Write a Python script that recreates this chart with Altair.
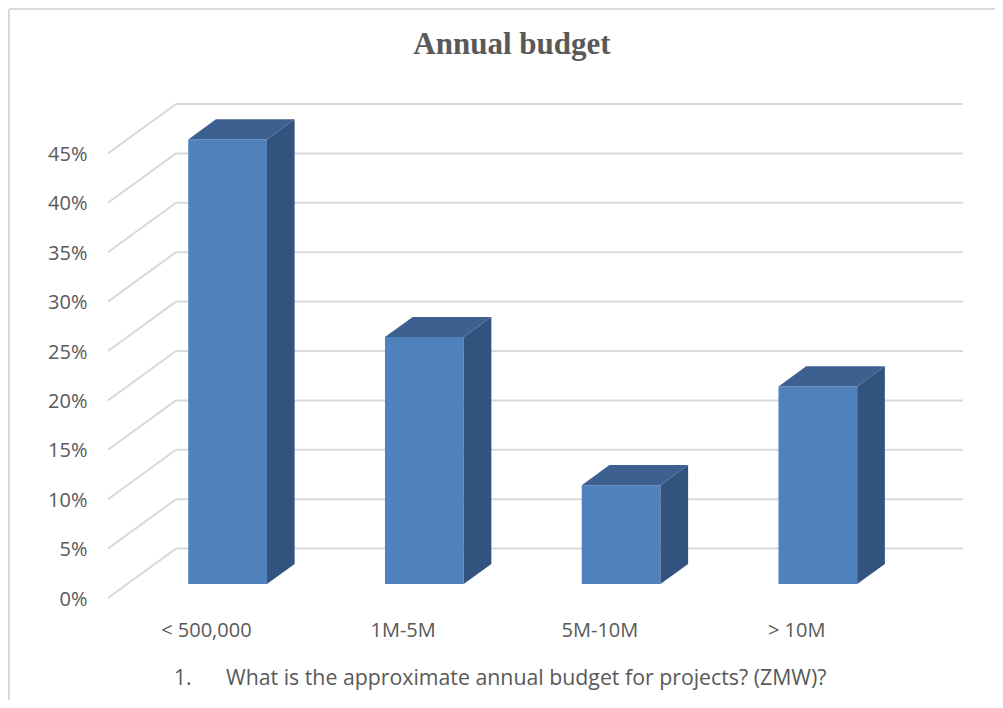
import altair as alt
import pandas as pd

# ---------------- data ----------------
categories = ["< 500,000", "1M-5M", "5M-10M", "> 10M"]
shares = [0.45, 0.25, 0.10, 0.20]
tick_values = [0.0, 0.05, 0.10, 0.15, 0.20, 0.25, 0.30, 0.35, 0.40, 0.45]
title_text = "Annual budget"
footnote_number = "1."
footnote_text = "What is the approximate annual budget for projects? (ZMW)?"

# ---------------- styling / geometry ----------------
W, H = 855, 494
UNIT = 196.75                 # px per category slot
DEPTH_X = 68 / UNIT           # 3-D depth of the wall, in category units
DEPTH_Y = 0.05                # 3-D depth of the wall, in value units
X_MAX = len(categories) + DEPTH_X
Y_MAX = 0.5
BAR_L, BAR_R = 0.31, 0.71
F1, F2 = 0.283, 0.69          # bar front / back depth fractions
FX1, FY1 = F1 * DEPTH_X, F1 * DEPTH_Y
FX2, FY2 = F2 * DEPTH_X, F2 * DEPTH_Y

FONT = "Open Sans"
TEXT_COLOR = "#595959"
GRID = "#d9d9d9"
FRONT = "#4f81bd"
TOP = "#3c6190"
SIDE = "#33537f"

xs = alt.Scale(domain=[0, X_MAX], nice=False, zero=False)
ys = alt.Scale(domain=[0, Y_MAX], nice=False, zero=False)
yaxis = alt.Axis(values=tick_values, format=".0%", grid=False, domain=False,
                 ticks=False, labelPadding=21, labelFont=FONT, labelFontSize=20,
                 labelColor=TEXT_COLOR, title=None, labelBaseline="middle", labelOffset=1)


def Y(field):
    return alt.Y(field, scale=ys, axis=yaxis, title=None)


def X(field):
    return alt.X(field, scale=xs, axis=None)


# ---------------- derived tables ----------------
grid_df = pd.DataFrame({"lvl": tick_values})
grid_df["x0"] = 0.0
grid_df["xb"] = DEPTH_X
grid_df["xe"] = len(categories) + DEPTH_X
grid_df["lvl_b"] = grid_df["lvl"] + DEPTH_Y

bars = pd.DataFrame({"cat": categories, "v": shares})
bars["i"] = range(len(categories))
bars["center"] = bars["i"] + 0.5
bars["fx0"] = bars["i"] + BAR_L + FX1
bars["fx1"] = bars["i"] + BAR_R + FX1
bars["fy0"] = FY1
bars["fy1"] = bars["v"] + FY1

side_rows, top_rows = [], []
for i, (c, v) in enumerate(zip(categories, shares)):
    side_rows.append({"cat": c, "x": i + BAR_R + FX1, "yt": v + FY1, "yb": FY1})
    side_rows.append({"cat": c, "x": i + BAR_R + FX2, "yt": v + FY2, "yb": FY2})
    top_rows.append({"cat": c, "y": v + FY1, "xl": i + BAR_L + FX1, "xr": i + BAR_R + FX1})
    top_rows.append({"cat": c, "y": v + FY2, "xl": i + BAR_L + FX2, "xr": i + BAR_R + FX2})
side_df = pd.DataFrame(side_rows)
top_df = pd.DataFrame(top_rows)

# ---------------- layers ----------------
diag = alt.Chart(grid_df).mark_rule(color=GRID, strokeWidth=2).encode(
    x=X("x0:Q"), x2="xb:Q", y=Y("lvl:Q"), y2="lvl_b:Q",
)

back = alt.Chart(grid_df).mark_rule(color=GRID, strokeWidth=2).encode(
    x=X("xb:Q"), x2="xe:Q", y=Y("lvl_b:Q"),
)

front = alt.Chart(bars).mark_rect(color=FRONT).encode(
    x=X("fx0:Q"), x2="fx1:Q", y=Y("fy0:Q"), y2="fy1:Q",
)

side = alt.Chart(side_df).mark_area(color=SIDE, orient="vertical").encode(
    x=X("x:Q"), y=Y("yt:Q"), y2="yb:Q", detail="cat:N",
)

top = alt.Chart(top_df).mark_area(color=TOP, orient="horizontal").encode(
    y=Y("y:Q"), x=X("xl:Q"), x2="xr:Q", detail="cat:N",
)

cat_labels = alt.Chart(bars).mark_text(
    font=FONT, fontSize=20, color=TEXT_COLOR, align="center", baseline="alphabetic"
).encode(
    x=X("center:Q"),
    y=alt.value(533),
    text="cat:N",
)

title = alt.Chart(pd.DataFrame({"t": [title_text]})).mark_text(
    font="Liberation Serif", fontWeight="bold", fontSize=31, color=TEXT_COLOR,
    align="center", baseline="alphabetic"
).encode(x=alt.value(404), y=alt.value(-50), text="t:N")

foot_num = alt.Chart(pd.DataFrame({"t": [footnote_number]})).mark_text(
    font=FONT, fontSize=21, color=TEXT_COLOR, align="left", baseline="alphabetic"
).encode(x=alt.value(66), y=alt.value(581), text="t:N")

foot_txt = alt.Chart(pd.DataFrame({"t": [footnote_text]})).mark_text(
    font=FONT, fontSize=21.3, color=TEXT_COLOR, align="left", baseline="alphabetic"
).encode(x=alt.value(118), y=alt.value(581), text="t:N")

frame_left = alt.Chart(pd.DataFrame({"a": [0]})).mark_rule(color=GRID, strokeWidth=2).encode(
    x=alt.value(-99), y=alt.value(-95), y2=alt.value(H + 102)
)
frame_top = alt.Chart(pd.DataFrame({"a": [0]})).mark_rule(color=GRID, strokeWidth=2).encode(
    x=alt.value(-99), x2=alt.value(W + 32), y=alt.value(-95)
)

chart = alt.layer(
    diag, back, front, side, top,
    cat_labels, title, foot_num, foot_txt, frame_left, frame_top
).properties(
    width=W, height=H,
    autosize=alt.AutoSizeParams(type="none"),
    padding={"left": 100, "top": 96, "right": 32, "bottom": 102},
    background="white",
).configure_view(stroke=None)

chart.save("out.html", embed_options={"renderer": "svg", "actions": False})
